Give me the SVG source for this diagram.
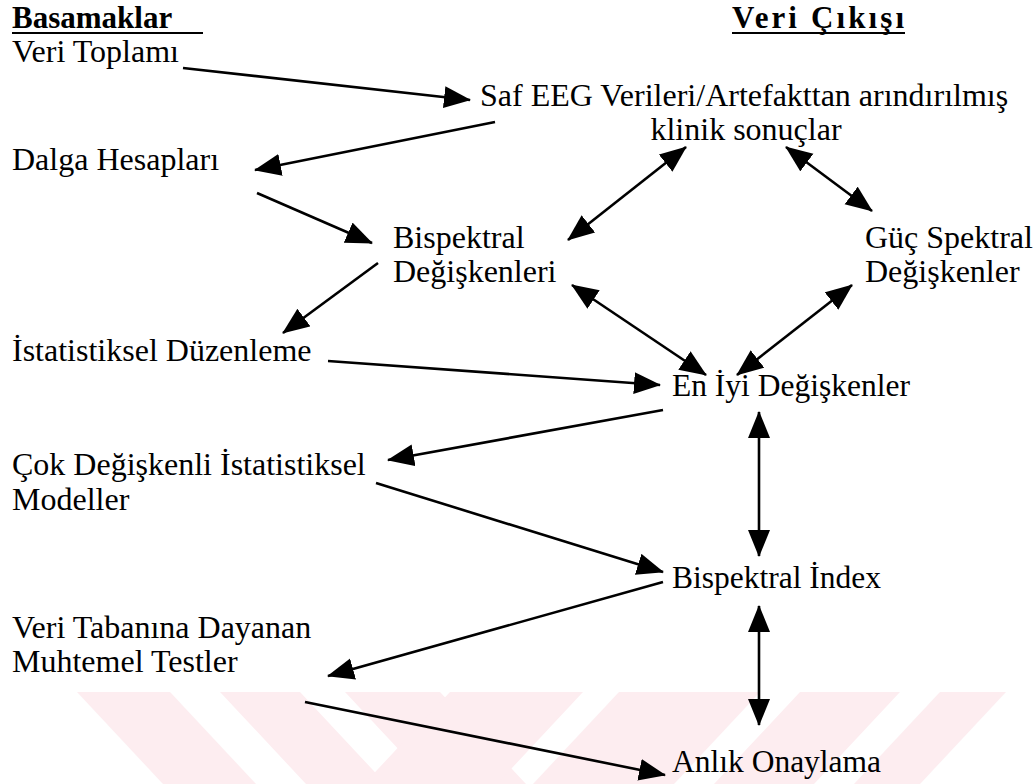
<svg xmlns="http://www.w3.org/2000/svg" width="1036" height="784" viewBox="0 0 1036 784">
<defs>
<style>
text{font-family:"Liberation Serif","Times New Roman",serif;font-size:32px;fill:#000}
.h{font-weight:bold;font-size:31px}
.r{font-size:31.5px}
.u{stroke:#000;stroke-width:2}
.c{stroke:#000;stroke-width:2.6;fill:none;marker-end:url(#ah)}
.d{marker-start:url(#ah)}
.wm{fill:#fdedf0}
</style>
<marker id="ah" markerUnits="userSpaceOnUse" markerWidth="28" markerHeight="24" refX="26" refY="11" orient="auto-start-reverse" viewBox="0 0 28 24">
<path d="M0,0 L27,11 L0,22 z" fill="#000"/>
</marker>
</defs>
<rect width="1036" height="784" fill="#fff"/>
<g id="watermark">
<polygon class="wm" points="77,692 170,692 256,784 163,784"/>
<polygon class="wm" points="220,692 300,692 386,784 306,784"/>
<polygon class="wm" points="345,692 440,692 526,784 431,784"/>
<polygon class="wm" points="450,692 583,692 497,784 364,784"/>
<polygon class="wm" points="619,692 760,692 674,784 533,784"/>
<polygon class="wm" points="800,692 900,692 814,784 714,784"/>
<polygon class="wm" points="940,692 1006,692 920,784 854,784"/>
</g>
<g id="connectors">
<line class="c" x1="183" y1="68" x2="470" y2="100"/>
<line class="c" x1="495" y1="122" x2="255" y2="170"/>
<line class="c" x1="257" y1="193" x2="372" y2="243"/>
<line class="c" x1="378" y1="263" x2="283" y2="333"/>
<line class="c" x1="328" y1="361" x2="660" y2="385"/>
<line class="c d" x1="568" y1="240" x2="686" y2="147"/>
<line class="c d" x1="786" y1="147" x2="872" y2="211"/>
<line class="c d" x1="572" y1="285" x2="706" y2="375"/>
<line class="c d" x1="852" y1="285" x2="737" y2="375"/>
<line class="c" x1="663" y1="410" x2="388" y2="460"/>
<line class="c" x1="376" y1="483" x2="663" y2="572"/>
<line class="c d" x1="759" y1="412" x2="759" y2="556"/>
<line class="c" x1="663" y1="582" x2="328" y2="676"/>
<line class="c d" x1="759" y1="606" x2="759" y2="725"/>
<line class="c" x1="305" y1="702" x2="665" y2="775"/>
</g>
<g id="header-left"><text class="h" x="12" y="28">Basamaklar</text><line class="u" x1="12" y1="33" x2="203" y2="33"/></g>
<g id="header-right"><text class="h" x="732" y="28" textLength="172" lengthAdjust="spacing">Veri Çıkışı</text><line class="u" x1="732" y1="33" x2="905" y2="33"/></g>
<g id="n-veri-toplami"><text x="12" y="62">Veri Toplamı</text></g>
<g id="n-saf-eeg"><text x="480" y="106">Saf EEG Verileri/Artefakttan arındırılmış</text><text x="746" y="140" text-anchor="middle">klinik sonuçlar</text></g>
<g id="n-dalga"><text x="12" y="170">Dalga Hesapları</text></g>
<g id="n-bispektral-deg"><text x="393" y="248">Bispektral</text><text x="393" y="282">Değişkenleri</text></g>
<g id="n-guc"><text x="865" y="248">Güç Spektral</text><text x="865" y="282">Değişkenler</text></g>
<g id="n-istat-duz"><text x="12" y="361">İstatistiksel Düzenleme</text></g>
<g id="n-en-iyi"><text class="r" x="672" y="396">En İyi Değişkenler</text></g>
<g id="n-cok"><text x="12" y="475">Çok Değişkenli İstatistiksel</text><text x="12" y="510">Modeller</text></g>
<g id="n-bis-index"><text class="r" x="672" y="588">Bispektral İndex</text></g>
<g id="n-veri-tabani"><text x="12" y="638">Veri Tabanına Dayanan</text><text x="12" y="672">Muhtemel Testler</text></g>
<g id="n-anlik"><text class="r" x="672" y="772">Anlık Onaylama</text></g>
</svg>
